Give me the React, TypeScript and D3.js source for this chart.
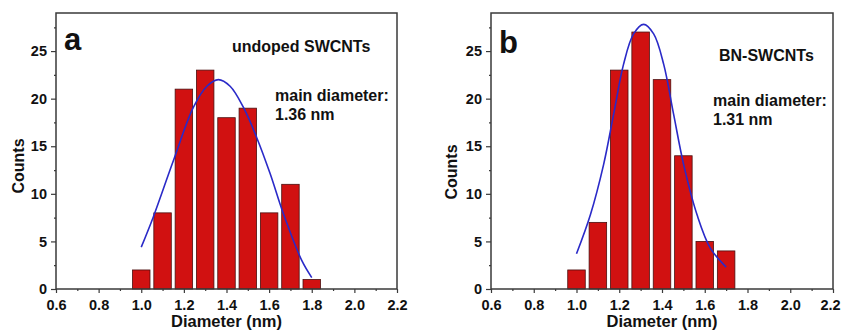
import React, { useEffect, useRef } from 'react';
import * as d3 from 'd3';

// bin centres (nm) and counts
const binsA = [1.0, 1.1, 1.2, 1.3, 1.4, 1.5, 1.6, 1.7, 1.8];
const countsA = [2, 8, 21, 23, 18, 19, 8, 11, 1];
const binsB = [1.0, 1.1, 1.2, 1.3, 1.4, 1.5, 1.6, 1.7];
const countsB = [2, 7, 23, 27, 22, 14, 5, 4];

// Gaussian fit curves
const fitAx = [1.0, 1.057, 1.151, 1.245, 1.308, 1.362, 1.417, 1.479, 1.542, 1.605, 1.667, 1.753, 1.8];
const fitAy = [4.4, 7.6, 13.5, 19.1, 21.3, 22.0, 21.3, 19.1, 15.9, 12.1, 7.9, 3.0, 1.2];
const fitBx = [1.0, 1.065, 1.127, 1.174, 1.22, 1.267, 1.314, 1.361, 1.408, 1.454, 1.501, 1.564, 1.626, 1.7];
const fitBy = [3.7, 7.8, 13.1, 18.4, 23.6, 26.8, 27.8, 26.8, 23.6, 18.4, 13.1, 7.8, 4.3, 2.3];

const xTicks = [0.6, 0.8, 1.0, 1.2, 1.4, 1.6, 1.8, 2.0, 2.2];
const yTicks = [0, 5, 10, 15, 20, 25];

const panels = [
  { left: 56, right: 397, label: 'a', labelY: 50, title: 'undoped SWCNTs', titleX: 232, titleY: 52, main: '1.36 nm', mainX: 275, mainY: 101, countsX: 24, countsY: 166 },
  { left: 491, right: 833, label: 'b', labelY: 53, title: 'BN-SWCNTs', titleX: 719, titleY: 61, main: '1.31 nm', mainX: 713, mainY: 106, countsX: 457, countsY: 172 },
];
const histData = [
  { bins: binsA, counts: countsA, fx: fitAx, fy: fitAy },
  { bins: binsB, counts: countsB, fx: fitBx, fy: fitBy },
];

const FONT = '"Liberation Sans", Arial, sans-serif';

export default function App() {
  const svgRef = useRef<SVGSVGElement>(null);

  useEffect(() => {
    if (!svgRef.current) return;
    const svg = d3.select(svgRef.current);
    svg.selectAll('*').remove();
    const top = 13;
    const bottom = 289;

    panels.forEach((p, i) => {
      const h = histData[i];
      const g = svg.append('g');
      const x = d3.scaleLinear().domain([0.6, 2.2]).range([p.left, p.right]);
      const y = d3.scaleLinear().domain([0, 29]).range([bottom, top]);

      // bars
      const bw = x(0.682) - x(0.6);
      g.selectAll('.bar')
        .data(h.bins.map((b, k) => ({ b, c: h.counts[k] })))
        .enter().append('rect')
        .attr('x', d => x(d.b) - bw / 2)
        .attr('y', d => y(d.c))
        .attr('width', bw)
        .attr('height', d => y(0) - y(d.c))
        .attr('fill', '#d11111')
        .attr('stroke', '#4a1010')
        .attr('stroke-width', 0.8);

      // fit curve
      const line = d3.line<number>()
        .x((_, k) => x(h.fx[k]))
        .y(d => y(d))
        .curve(d3.curveCatmullRom);
      g.append('path')
        .attr('d', line(h.fy))
        .attr('fill', 'none')
        .attr('stroke', '#2a2ac8')
        .attr('stroke-width', 1.6);

      // frame
      g.append('rect')
        .attr('x', p.left).attr('y', top)
        .attr('width', p.right - p.left).attr('height', bottom - top)
        .attr('fill', 'none').attr('stroke', '#3a3a3a').attr('stroke-width', 1.5);

      // axes (outward ticks, minor ticks between)
      const xa = g.append('g').attr('transform', `translate(0,${bottom})`)
        .call(d3.axisBottom(x).tickValues(xTicks).tickFormat(d3.format('.1f')).tickSize(4).tickPadding(7));
      g.append('g').attr('transform', `translate(0,${bottom})`)
        .call(d3.axisBottom(x).tickValues(d3.range(0.7, 2.2, 0.2)).tickFormat(() => '').tickSize(2))
        .call(a => a.select('.domain').remove());
      const ya = g.append('g').attr('transform', `translate(${p.left},0)`)
        .call(d3.axisLeft(y).tickValues(yTicks).tickSize(5).tickPadding(4));
      g.append('g').attr('transform', `translate(${p.left},0)`)
        .call(d3.axisLeft(y).tickValues([2.5, 7.5, 12.5, 17.5, 22.5, 27.5]).tickFormat(() => '').tickSize(2))
        .call(a => a.select('.domain').remove());
      [xa, ya].forEach(a => {
        a.select('.domain').remove();
        a.selectAll('text').attr('font-family', FONT).attr('font-weight', 'bold').attr('font-size', 14.5).attr('fill', '#111');
      });
      // last label of the right panel sits at the page edge; nudge it in
      if (i === 1) {
        xa.selectAll<SVGTextElement, number>('text').filter(d => d === 2.2).attr('dx', -3);
      }
      g.selectAll('.tick line').attr('stroke', '#3a3a3a').attr('stroke-width', 1.2);

      // axis titles
      g.append('text')
        .attr('x', (p.left + p.right) / 2).attr('y', 327)
        .attr('text-anchor', 'middle')
        .attr('font-family', FONT).attr('font-weight', 'bold').attr('font-size', 16.5).attr('fill', '#111')
        .text('Diameter (nm)');
      g.append('text')
        .attr('transform', `translate(${p.countsX},${p.countsY}) rotate(-90)`)
        .attr('text-anchor', 'middle')
        .attr('font-family', FONT).attr('font-weight', 'bold').attr('font-size', 16).attr('fill', '#111')
        .text('Counts');

      // annotations
      g.append('text')
        .attr('x', p.left + 8).attr('y', p.labelY)
        .attr('font-family', FONT).attr('font-weight', 'bold').attr('font-size', 31).attr('fill', '#111')
        .text(p.label);
      g.append('text')
        .attr('x', p.titleX).attr('y', p.titleY)
        .attr('font-family', FONT).attr('font-weight', 'bold').attr('font-size', 16).attr('fill', '#111')
        .text(p.title);
      g.append('text')
        .attr('x', p.mainX).attr('y', p.mainY)
        .attr('font-family', FONT).attr('font-weight', 'bold').attr('font-size', 16).attr('fill', '#111')
        .text('main diameter:');
      g.append('text')
        .attr('x', p.mainX).attr('y', p.mainY + 19)
        .attr('font-family', FONT).attr('font-weight', 'bold').attr('font-size', 16).attr('fill', '#111')
        .text(p.main);
    });
  }, []);

  return (
    <svg ref={svgRef} width={842} height={331}
      style={{ position: 'fixed', left: 0, top: 0, background: '#fff' }} />
  );
}
